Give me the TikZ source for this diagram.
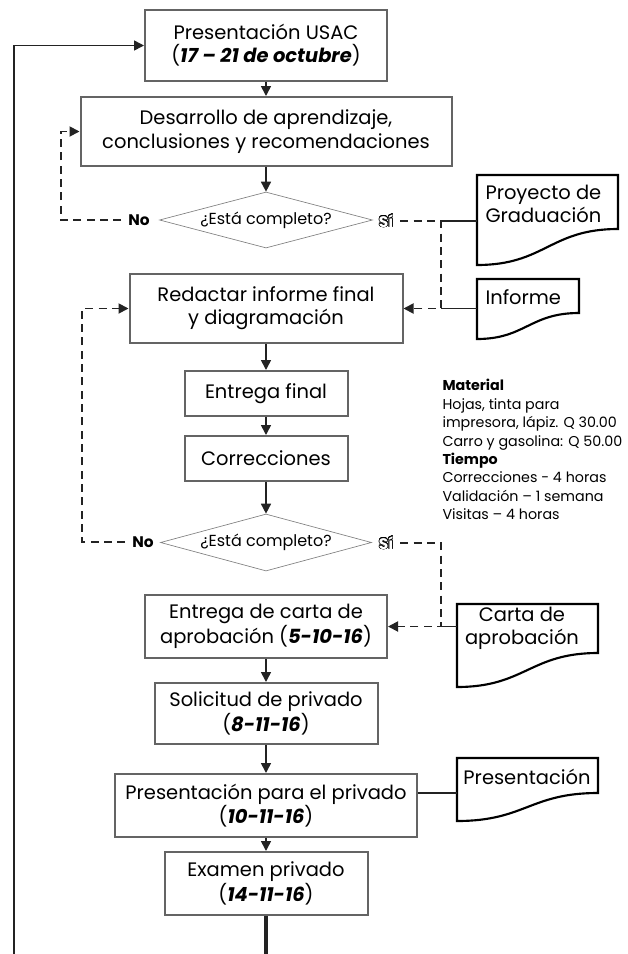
\documentclass[tikz,border=0pt]{standalone}
\usepackage{fontspec}
\setmainfont{Poppins}
\usepackage{contour}
\usetikzlibrary{shapes.geometric,arrows.meta}
\tikzset{every picture/.style={line width=0.75pt}}
\contourlength{0.45pt}
\definecolor{boxgray}{RGB}{100,100,100}
\definecolor{linegray}{RGB}{35,35,35}

\begin{document}
\begin{tikzpicture}[x=0.75pt,y=0.75pt,yscale=-1,xscale=1,
  proc/.style={draw=boxgray,line width=1.5pt,align=center,inner sep=0pt,font=\fontsize{14.6}{17.4}\selectfont},
  decision/.style={diamond,draw=gray,line width=0.5pt,aspect=3.8,inner sep=0pt,font=\fontsize{12}{13}\selectfont},
  answer/.style={inner xsep=5pt,inner ysep=0pt,font=\fontsize{11.5}{13}\selectfont\bfseries},
  docline/.style={draw=black,line width=1.6pt},
  doctext/.style={inner sep=0pt,font=\fontsize{14.6}{17.4}\selectfont},
  arr/.style={draw=linegray,line width=1.2pt,-{Triangle[length=7.5pt,width=7.5pt]}},
  dasharr/.style={arr,line width=1.4pt,dash pattern=on 6pt off 4pt},
  plain/.style={draw=linegray,line width=1.4pt}]
%set diagram size to the reference
\path[use as bounding box] (0,0) rectangle (628,954);

%Shape: Rectangle
\node[proc,minimum width=181.5pt,minimum height=53.25pt] (usac) at (266,45.5) {Presentación USAC\\(\textbf{\textit{17 – 21 de octubre}})};
%Shape: Rectangle
\node[proc,minimum width=278.25pt,minimum height=51.75pt] (desarrollo) at (266,131.5) {Desarrollo de aprendizaje,\\conclusiones y recomendaciones};
%Shape: Diamond
\node[decision,minimum width=159.75pt,minimum height=42pt] (check1) at (266,220) {¿Está completo?};
%Shape: Rectangle
\node[proc,minimum width=204.75pt,minimum height=51.75pt] (redactar) at (266,308.5) {Redactar informe final\\y diagramación};
%Shape: Rectangle
\node[proc,minimum width=122.25pt,minimum height=33.75pt] (entrega) at (266,393.5) {Entrega final};
%Shape: Rectangle
\node[proc,minimum width=122.25pt,minimum height=33.75pt] (correc) at (266,458.5) {Correcciones};
%Shape: Diamond
\node[decision,minimum width=158.25pt,minimum height=42.75pt] (check2) at (266,542.5) {¿Está completo?};
%Shape: Rectangle
\node[proc,minimum width=181.5pt,minimum height=47.25pt] (carta) at (266,626.5) {Entrega de carta de\\aprobación (\textbf{\textit{5-10-16}})};
%Shape: Rectangle
\node[proc,minimum width=167.25pt,minimum height=45.75pt] (solicitud) at (266,713.5) {Solicitud de privado\\(\textbf{\textit{8-11-16}})};
%Shape: Rectangle
\node[proc,minimum width=226.5pt,minimum height=47.25pt] (privado) at (266,805.5) {Presentación para el privado\\(\textbf{\textit{10-11-16}})};
%Shape: Rectangle
\node[proc,minimum width=152.25pt,minimum height=47.25pt] (examen) at (266,883.5) {Examen privado\\(\textbf{\textit{14-11-16}})};

% Text Node
\node[answer] (no1) at (139,220) {No};
% Text Node
\node[answer] (si1) at (386,221) {\contour{black}{\textcolor{white}{Sí}}};
% Text Node
\node[answer] (no2) at (143,542) {No};
% Text Node
\node[answer] (si2) at (386,543) {\contour{black}{\textcolor{white}{Sí}}};

%Shape: Document
\draw[docline] (618,229) -- (618,175) -- (477,175) -- (477,265) .. controls (545,265) and (550,229) .. (618,229) -- cycle;
\node[doctext,anchor=west,align=left] (proyecto) at (485,204) {Proyecto de\\Graduación};
%Shape: Document
\draw[docline] (579,313) -- (579,279) -- (477,279) -- (477,339) .. controls (525,339) and (530,313) .. (579,313) -- cycle;
\node[doctext,anchor=west] (informe) at (485,297) {Informe};
%Shape: Document
\draw[docline] (598,653) -- (598,604) -- (457,604) -- (457,687) .. controls (525,687) and (530,653) .. (598,653) -- cycle;
\node[doctext,align=center] (cartadoc) at (522,628) {Carta de\\aprobación};
%Shape: Document
\draw[docline] (598,793) -- (598,758) -- (457,758) -- (457,821) .. controls (525,821) and (530,793) .. (598,793) -- cycle;
\node[doctext] (presdoc) at (527,777) {Presentación};

% Text Node
\node[anchor=north west,align=left,inner sep=0pt,font=\fontsize{10.7}{13.8}\selectfont] (recursos) at (442,379) {\textbf{Material}\\Hojas, tinta para\\impresora, lápiz. Q 30.00\\Carro y gasolina: Q 50.00\\\textbf{Tiempo}\\Correcciones - 4 horas\\Validación – 1 semana\\Visitas – 4 horas};

\coordinate (loopleft) at (14,954);
\coordinate (bottom) at (266,954);
\coordinate (back1) at (61,220);
\coordinate (back2) at (82,542);
\coordinate (join1) at (441,221);
\coordinate (join2) at (441,543);
\coordinate (proyin) at (477,221);
\coordinate (infin) at (477,308.5);
\coordinate (cartin) at (457,626.5);
\coordinate (presin) at (457,793);

%Straight Lines
\draw[arr] (loopleft) |- (usac.west);
\draw[arr] (usac) -- (desarrollo);
\draw[arr] (desarrollo) -- (check1);
\draw[arr] (redactar) -- (entrega);
\draw[arr] (entrega) -- (correc);
\draw[arr] (correc) -- (check2);
\draw[arr] (carta) -- (solicitud);
\draw[arr] (solicitud) -- (privado);
\draw[arr] (privado) -- (examen);
\draw[plain,line width=2.6pt] (examen) -- (bottom);

%Dashed Lines
\draw[dasharr] (no1.west) -- (back1) |- (desarrollo.west);
\draw[dasharr] (si1.east) -- (join1) |- (redactar.east);
\draw[plain] (join1) -- (proyin);
\draw[plain] (join1 |- infin) -- (infin);
\draw[dasharr] (no2.west) -- (back2) |- (redactar.west);
\draw[dasharr] (si2.east) -- (join2) |- (carta.east);
\draw[plain] (join2 |- cartin) -- (cartin);
\draw[plain] (privado.east |- presin) -- (presin);

\end{tikzpicture}
\end{document}
